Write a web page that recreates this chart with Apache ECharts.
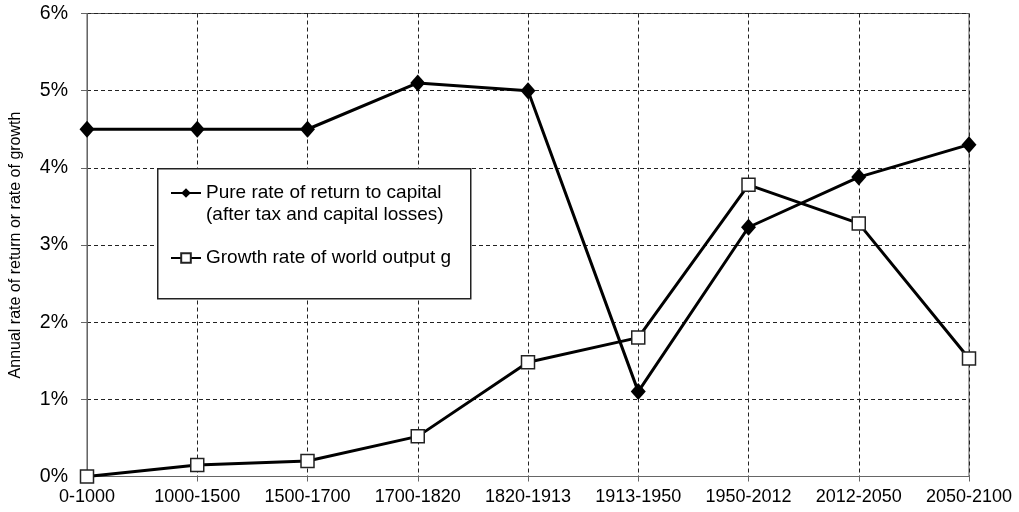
<!DOCTYPE html>
<html>
<head>
<meta charset="utf-8">
<script src="https://cdn.jsdelivr.net/npm/echarts@6/dist/echarts.min.js"></script>
<style>
  html, body { margin: 0; padding: 0; background: #fff; }
  #chart { width: 1019px; height: 512px; }
</style>
</head>
<body>
<div id="chart"></div>
<script>
const periods = ["0-1000", "1000-1500", "1500-1700", "1700-1820", "1820-1913",
  "1913-1950", "1950-2012", "2012-2050", "2050-2100"];
// pure rate of return to capital (%)
const returnRate = [4.5, 4.5, 4.5, 5.1, 5.0, 1.1, 3.23, 3.88, 4.3];
// growth rate of world output g (%)
const growthRate = [0.0, 0.15, 0.2, 0.52, 1.48, 1.8, 3.78, 3.28, 1.53];

// leading empty line keeps the legend icon level with the first text line
const returnName = "\nPure rate of return to capital\n(after tax and capital losses)";
const growthName = "Growth rate of world output g";

const font = "Liberation Sans, Arial, sans-serif";

const chart = echarts.init(document.getElementById("chart"), null, { renderer: "canvas" });

const option = {
  backgroundColor: "#fff",
  animation: false,
  textStyle: { fontFamily: font, color: "#000" },
  grid: {
    left: 87, right: 50, top: 13.5, bottom: 35.5,
    show: true, borderColor: "#555", borderWidth: 1
  },
  graphic: [{
    type: "rect",
    left: 157, top: 168,
    shape: { width: 313, height: 130 },
    style: { fill: "#fff", stroke: "#222", lineWidth: 1.5 },
    z: 50
  }],
  legend: {
    orient: "vertical",
    left: 170, top: 160,
    padding: 0,
    itemGap: 21,
    itemWidth: 30,
    itemHeight: 12,
    z: 60,
    textStyle: { fontFamily: font, fontSize: 19, lineHeight: 22, color: "#000" },
    data: [returnName, growthName]
  },
  xAxis: {
    type: "category",
    data: periods,
    boundaryGap: false,
    axisLine: { lineStyle: { color: "#666", width: 1 } },
    axisTick: { show: true, interval: 0, length: 5, lineStyle: { color: "#666" } },
    axisLabel: { interval: 0, fontFamily: font, fontSize: 18, color: "#000", margin: 12 },
    splitLine: { show: true, interval: 0, lineStyle: { type: [4, 3], color: "#222", width: 1 } }
  },
  yAxis: {
    type: "value",
    min: 0, max: 6, interval: 1,
    name: "Annual rate of return or rate of growth",
    nameLocation: "middle",
    nameRotate: 90,
    nameGap: 63,
    nameTextStyle: { fontFamily: font, fontSize: 16, color: "#000" },
    axisLine: { show: true, lineStyle: { color: "#666", width: 1 } },
    axisTick: { show: true, length: 6, lineStyle: { color: "#666" } },
    axisLabel: { fontFamily: font, fontSize: 19.5, color: "#000", margin: 19,
      formatter: v => v + "%" },
    splitLine: { show: true, lineStyle: { type: [4, 3], color: "#222", width: 1 } }
  },
  series: [
    {
      name: returnName,
      type: "line",
      data: returnRate,
      symbol: "diamond",
      symbolSize: [15, 17],
      lineStyle: { color: "#000", width: 3 },
      itemStyle: { color: "#000", borderColor: "#000", borderWidth: 0 },
      z: 3
    },
    {
      name: growthName,
      type: "line",
      data: growthRate,
      symbol: "rect",
      symbolSize: 13,
      lineStyle: { color: "#000", width: 3 },
      itemStyle: { color: "#fff", borderColor: "#222", borderWidth: 1.5 },
      z: 4
    }
  ]
};

chart.setOption(option);
</script>
</body>
</html>
